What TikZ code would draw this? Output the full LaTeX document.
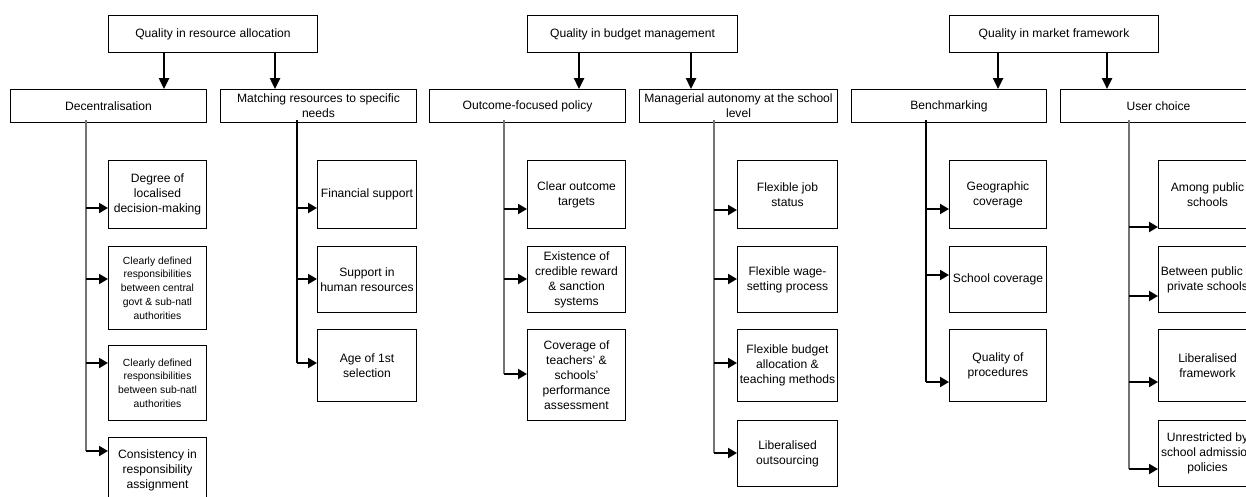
\documentclass[tikz,border=0pt]{standalone}
\usepackage{fontspec}
\setmainfont{Liberation Sans}
\usetikzlibrary{arrows.meta}
\tikzset{
  box/.style={draw=black, line width=1pt, align=center, inner sep=0pt, anchor=north west, font=\fontsize{12.1}{15}\selectfont},
  smallbox/.style={box, font=\fontsize{10.35}{13.8}\selectfont},
  vline/.style={draw=black!55, line width=1.6pt},
  harr/.style={draw=black, line width=2pt, -{Triangle[length=9pt,width=10pt]}},
  darr/.style={draw=black, line width=2.4pt, -{Triangle[length=11pt,width=10pt]}}
}
\begin{document}
\begin{tikzpicture}[x=1pt,y=-1pt]
\clip (0,0) rectangle (1246,496);
\fill[white] (0,0) rectangle (1246,496);

% top level
\node[box, minimum width=209pt, minimum height=37pt] (t1) at (108,15) {Quality in resource allocation};
\node[box, minimum width=210pt, minimum height=37pt] (t2) at (527,15) {Quality in budget management};
\node[box, minimum width=209pt, minimum height=37pt] (t3) at (949,15) {Quality in market framework};

% second level
\node[box, minimum width=196pt, minimum height=33pt] (d1) at (10,89) {Decentralisation};
\node[box, minimum width=196pt, minimum height=33pt] (d2) at (220,89) {Matching resources to specific\\needs};
\node[box, minimum width=196pt, minimum height=33pt] (d3) at (429,89) {Outcome-focused policy};
\node[box, minimum width=198pt, minimum height=33pt] (d4) at (639,89) {Managerial autonomy at the school\\level};
\node[box, minimum width=195pt, minimum height=33pt] (d5) at (851,89) {Benchmarking};
\node[box, minimum width=196pt, minimum height=33pt] (d6) at (1060,89) {User choice};

% down arrows
\coordinate (x1) at (164,0);
\coordinate (x2) at (275,0);
\coordinate (x3) at (579,0);
\coordinate (x4) at (691,0);
\coordinate (x5) at (998,0);
\coordinate (x6) at (1107,0);
\draw[darr] ([yshift=1.5pt]t1.south -| x1) -- (d1.north -| x1);
\draw[darr] ([yshift=1.5pt]t1.south -| x2) -- (d2.north -| x2);
\draw[darr] ([yshift=1.5pt]t2.south -| x3) -- (d3.north -| x3);
\draw[darr] ([yshift=1.5pt]t2.south -| x4) -- (d4.north -| x4);
\draw[darr] ([yshift=1.5pt]t3.south -| x5) -- (d5.north -| x5);
\draw[darr] ([yshift=1.5pt]t3.south -| x6) -- (d6.north -| x6);

% column 1
\node[box, minimum width=98pt, minimum height=68pt] (l11) at (108,160) {Degree of\\localised\\decision-making};
\node[smallbox, minimum width=98pt, minimum height=83pt] (l12) at (108,246) {Clearly defined\\responsibilities\\between central\\govt \& sub-natl\\authorities};
\node[smallbox, minimum width=98pt, minimum height=75pt] (l13) at (108,345) {Clearly defined\\responsibilities\\between sub-natl\\authorities};
\node[box, minimum width=98pt, minimum height=66pt] (l14) at (108,437) {Consistency in\\responsibility\\assignment};
\coordinate (v1) at (86,120);
\coordinate (a11) at (86,208);
\coordinate (a12) at (86,279);
\coordinate (a13) at (86,363);
\coordinate (a14) at (86,451);
\draw[vline] (v1) -- (a14);
\draw[harr] (a11) -- (a11 -| l11.west);
\draw[harr] (a12) -- (a12 -| l12.west);
\draw[harr] (a13) -- (a13 -| l13.west);
\draw[harr] (a14) -- (a14 -| l14.west);

% column 2
\node[box, minimum width=99pt, minimum height=68pt] (l21) at (317,160) {Financial support};
\node[box, minimum width=99pt, minimum height=66pt] (l22) at (317,246) {Support in\\human resources};
\node[box, minimum width=99pt, minimum height=72pt] (l23) at (317,329) {Age of 1st\\selection};
\coordinate (v2) at (297,120);
\coordinate (a21) at (297,208);
\coordinate (a22) at (297,279);
\coordinate (a23) at (297,363);
\draw[vline, draw=black] (v2) -- (a23);
\draw[harr] (a21) -- (a21 -| l21.west);
\draw[harr] (a22) -- (a22 -| l22.west);
\draw[harr] (a23) -- (a23 -| l23.west);

% column 3
\node[box, minimum width=98pt, minimum height=68pt] (l31) at (527,160) {Clear outcome\\targets};
\node[box, minimum width=98pt, minimum height=66pt] (l32) at (527,246) {Existence of\\credible reward\\\& sanction\\systems};
\node[box, minimum width=98pt, minimum height=91pt] (l33) at (527,329) {Coverage of\\teachers' \&\\schools'\\performance\\assessment};
\coordinate (v3) at (504,120);
\coordinate (a31) at (504,209);
\coordinate (a32) at (504,279);
\coordinate (a33) at (504,374);
\draw[vline] (v3) -- (a33);
\draw[harr] (a31) -- (a31 -| l31.west);
\draw[harr] (a32) -- (a32 -| l32.west);
\draw[harr] (a33) -- (a33 -| l33.west);

% column 4
\node[box, minimum width=100pt, minimum height=68pt] (l41) at (737,160) {Flexible job\\status};
\node[box, minimum width=100pt, minimum height=66pt] (l42) at (737,246) {Flexible wage-\\setting process};
\node[box, minimum width=100pt, minimum height=72pt] (l43) at (737,329) {Flexible budget\\allocation \&\\teaching methods};
\node[box, minimum width=100pt, minimum height=66pt] (l44) at (737,420) {Liberalised\\outsourcing};
\coordinate (v4) at (714,120);
\coordinate (a41) at (714,210);
\coordinate (a42) at (714,279);
\coordinate (a43) at (714,363);
\coordinate (a44) at (714,453);
\draw[vline] (v4) -- (a44);
\draw[harr] (a41) -- (a41 -| l41.west);
\draw[harr] (a42) -- (a42 -| l42.west);
\draw[harr] (a43) -- (a43 -| l43.west);
\draw[harr] (a44) -- (a44 -| l44.west);

% column 5
\node[box, minimum width=97pt, minimum height=68pt] (l51) at (949,160) {Geographic\\coverage};
\node[box, minimum width=97pt, minimum height=66pt] (l52) at (949,246) {School coverage};
\node[box, minimum width=97pt, minimum height=72pt] (l53) at (949,329) {Quality of\\procedures};
\coordinate (v5) at (926,120);
\coordinate (a51) at (926,209);
\coordinate (a52) at (926,275);
\coordinate (a53) at (926,382);
\draw[vline, draw=black] (v5) -- (a53);
\draw[harr] (a51) -- (a51 -| l51.west);
\draw[harr] (a52) -- (a52 -| l52.west);
\draw[harr] (a53) -- (a53 -| l53.west);

% column 6
\node[box, minimum width=98pt, minimum height=68pt] (l61) at (1158,160) {Among public\\schools};
\node[box, minimum width=98pt, minimum height=66pt] (l62) at (1158,246) {Between public \&\\private schools};
\node[box, minimum width=98pt, minimum height=72pt] (l63) at (1158,329) {Liberalised\\framework};
\node[box, minimum width=98pt, minimum height=66pt] (l64) at (1158,420) {Unrestricted by\\school admission\\policies};
\coordinate (v6) at (1129,120);
\coordinate (a61) at (1129,227);
\coordinate (a62) at (1129,296);
\coordinate (a63) at (1129,382);
\coordinate (a64) at (1129,469);
\draw[vline] (v6) -- (a64);
\draw[harr] (a61) -- (a61 -| l61.west);
\draw[harr] (a62) -- (a62 -| l62.west);
\draw[harr] (a63) -- (a63 -| l63.west);
\draw[harr] (a64) -- (a64 -| l64.west);
\end{tikzpicture}
\end{document}
